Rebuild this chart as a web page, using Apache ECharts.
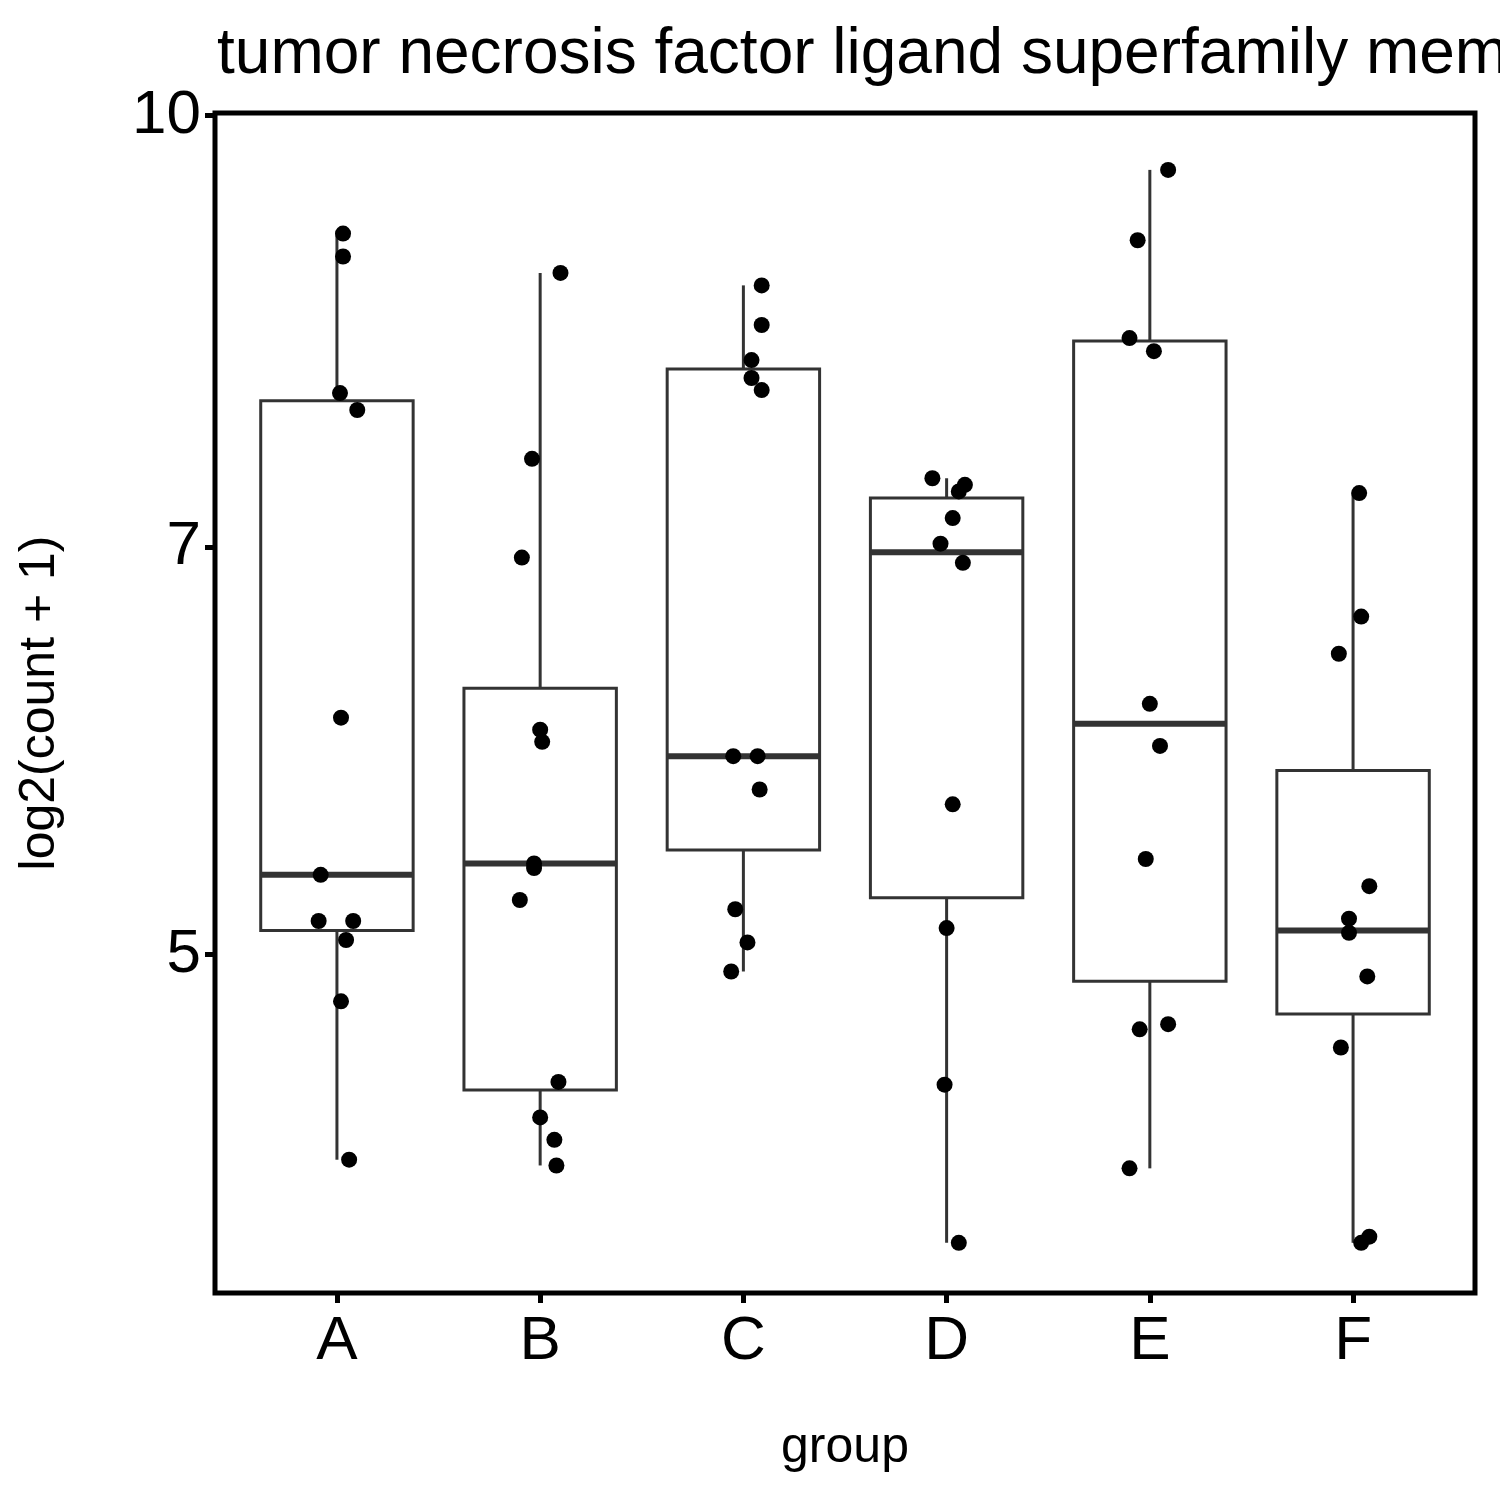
<!DOCTYPE html>
<html>
<head>
<meta charset="UTF-8">
<script src="https://cdn.jsdelivr.net/npm/echarts@6/dist/echarts.min.js"></script>
<style>html,body{margin:0;padding:0;background:#fff}#main{width:1500px;height:1500px}</style>
</head>
<body>
<div id="main"></div>
<script>
var groups = ['A', 'B', 'C', 'D', 'E', 'F'];
// [lower whisker, Q1, median, Q3, upper whisker]
var boxStats = [
	[4.22, 5.10, 5.34, 7.90, 9.07],
	[4.20, 4.47, 5.39, 6.23, 8.78],
	[4.93, 5.45, 5.89, 8.11, 8.69],
	[3.94, 5.24, 6.97, 7.29, 7.41],
	[4.19, 4.89, 6.05, 8.30, 9.56],
	[3.94, 4.76, 5.10, 5.82, 7.32]
];
// jittered points: [group index (1-based) + offset, value]
var pointsA = [[1.03,9.07],[1.03,8.90],[1.015,7.95],[1.10,7.84],[1.02,6.08],[0.92,5.34],[0.91,5.14],[1.08,5.14],[1.045,5.06],[1.02,4.81],[1.06,4.22]];
var pointsB = [[2.10,8.78],[1.96,7.53],[1.91,6.94],[2.00,6.02],[2.01,5.96],[1.97,5.39],[1.97,5.37],[1.90,5.23],[2.09,4.50],[2.00,4.37],[2.07,4.29],[2.08,4.20]];
var pointsC = [[3.09,8.69],[3.09,8.41],[3.04,8.17],[3.04,8.05],[3.09,7.97],[2.95,5.89],[3.07,5.89],[3.08,5.73],[2.96,5.19],[3.02,5.05],[2.94,4.93]];
var pointsD = [[3.93,7.41],[4.09,7.37],[4.06,7.33],[4.03,7.17],[3.97,7.02],[4.08,6.91],[4.03,5.66],[4.00,5.11],[3.99,4.49],[4.06,3.94]];
var pointsE = [[5.09,9.56],[4.94,9.02],[4.90,8.32],[5.02,8.23],[5.00,6.15],[5.05,5.94],[4.98,5.41],[5.09,4.72],[4.95,4.70],[4.90,4.19]];
var pointsF = [[6.03,7.32],[6.04,6.61],[5.93,6.41],[6.08,5.29],[5.98,5.15],[5.98,5.09],[6.07,4.91],[5.94,4.63],[6.08,3.96],[6.04,3.94]];
var yTicks = [5, 7, 10];

var allPoints = [].concat(pointsA, pointsB, pointsC, pointsD, pointsE, pointsF)
	.map(function (p) { return [p[0], Math.log(p[1])]; });
var boxData = boxStats.map(function (s, i) {
	return [i + 1].concat(s.map(function (v) { return Math.log(v); }));
});

var option = {
	animation: false,
	title: {
		text: 'tumor necrosis factor ligand superfamily member',
		left: 212, top: 18,
		textStyle: { fontFamily: 'Liberation Sans', fontSize: 64, fontWeight: 'normal', color: '#000' }
	},
	grid: { left: 215, top: 113, right: 25, bottom: 207, show: true, borderColor: '#000', borderWidth: 5 },
	xAxis: {
		type: 'value', min: 0.4, max: 6.6,
		name: 'group', nameLocation: 'middle', nameGap: 130,
		nameTextStyle: { fontFamily: 'Liberation Sans', fontSize: 50, color: '#000' },
		splitLine: { show: false },
		axisLine: { show: false },
		axisTick: { show: true, length: 10, lineStyle: { color: '#000', width: 5 }, customValues: [1, 2, 3, 4, 5, 6] },
		axisLabel: {
			customValues: [1, 2, 3, 4, 5, 6], margin: 18,
			fontFamily: 'Liberation Sans', fontSize: 62, color: '#000',
			formatter: function (v) { return groups[Math.round(v) - 1]; }
		}
	},
	yAxis: {
		type: 'value', min: Math.log(3.78), max: Math.log(10.02),
		name: 'log2(count + 1)', nameLocation: 'middle', nameGap: 150,
		nameTextStyle: { fontFamily: 'Liberation Sans', fontSize: 50, color: '#000' },
		splitLine: { show: false },
		axisLine: { show: false },
		axisTick: { show: true, length: 10, lineStyle: { color: '#000', width: 5 }, customValues: yTicks.map(Math.log) },
		axisLabel: {
			customValues: yTicks.map(Math.log), margin: 14,
			fontFamily: 'Liberation Sans', fontSize: 62, color: '#000',
			formatter: function (v) { return String(Math.round(Math.exp(v))); }
		}
	},
	series: [{
		type: 'custom',
		data: boxData,
		renderItem: function (params, api) {
			var x = api.value(0), hw = 0.375;
			var lo = api.coord([x, api.value(1)]), q1 = api.coord([x, api.value(2)]);
			var md = api.coord([x, api.value(3)]), q3 = api.coord([x, api.value(4)]);
			var hi = api.coord([x, api.value(5)]);
			var l = api.coord([x - hw, 0])[0], r = api.coord([x + hw, 0])[0];
			var st = { stroke: '#333', lineWidth: 3, fill: null };
			return { type: 'group', children: [
				{ type: 'line', shape: { x1: lo[0], y1: lo[1], x2: q1[0], y2: q1[1] }, style: st },
				{ type: 'line', shape: { x1: hi[0], y1: hi[1], x2: q3[0], y2: q3[1] }, style: st },
				{ type: 'rect', shape: { x: l, y: q3[1], width: r - l, height: q1[1] - q3[1] }, style: { stroke: '#333', lineWidth: 3, fill: '#fff' } },
				{ type: 'line', shape: { x1: l, y1: md[1], x2: r, y2: md[1] }, style: { stroke: '#333', lineWidth: 6 } }
			] };
		},
		z: 1
	}, {
		type: 'scatter',
		data: allPoints,
		symbolSize: 16,
		itemStyle: { color: '#000', opacity: 1 },
		z: 2
	}]
};
echarts.init(document.getElementById('main')).setOption(option);
</script>
</body>
</html>
